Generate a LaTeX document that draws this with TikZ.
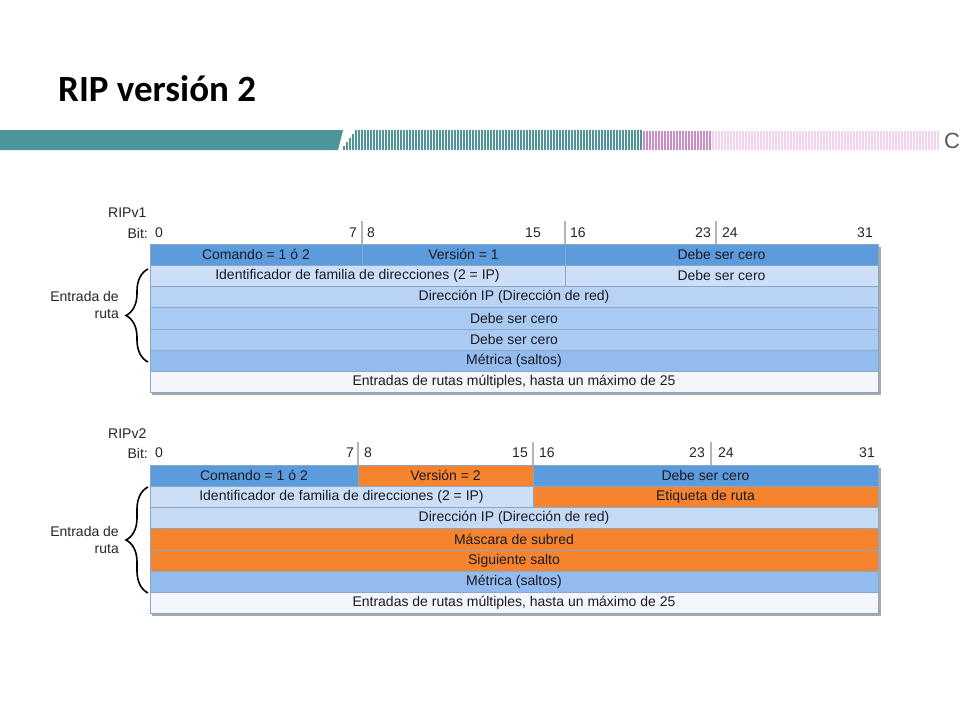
\documentclass[tikz,border=0pt]{standalone}
\usepackage{fontspec}
\setmainfont{Liberation Sans}
\newfontfamily\titlefont{Carlito}
\usetikzlibrary{decorations.pathreplacing}
\definecolor{teal1}{HTML}{4E959B}
\definecolor{pinkst}{HTML}{F4D2EE}
\definecolor{purpst}{HTML}{C98CC4}
\definecolor{hdr}{HTML}{5C9CDC}
\definecolor{lbA}{HTML}{CCDFF6}
\definecolor{lbB}{HTML}{B8D3F4}
\definecolor{lbC}{HTML}{A9CAF2}
\definecolor{lbD}{HTML}{93BBEE}
\definecolor{lbE}{HTML}{C4DAF5}
\definecolor{wrow}{HTML}{F3F6FA}
\definecolor{orng}{HTML}{F6842F}
\definecolor{rowline}{HTML}{8AA8C6}
\definecolor{txt}{HTML}{1A1A24}
\definecolor{tick}{HTML}{B5B5B5}
\definecolor{shadowc}{HTML}{A8A8A8}
\tikzset{
  cell/.style={draw=rowline, line width=0.6pt, inner sep=0pt, outer sep=0pt,
    anchor=north west, minimum height=21.2pt, text=txt,
    font=\fontsize{14}{16}\selectfont},
  bitlbl/.style={inner sep=0pt, text=black!85, font=\fontsize{14}{16}\selectfont},
  ticks/.style={draw=tick, line width=2pt},
  sidelbl/.style={inner sep=0pt, align=right, anchor=east, text=black!85,
    font=\fontsize{14}{17}\selectfont},
  bracest/.style={decorate, decoration={brace, amplitude=22pt, aspect=0.5}, line width=1.6pt, black},
  shadowbox/.style={fill=shadowc, draw=none}
}
\begin{document}
\begin{tikzpicture}[x=1pt,y=-1pt]
\useasboundingbox[fill=white] (0,0) rectangle (960,720);
% title
\node[anchor=base west, inner sep=0pt, font=\titlefont\bfseries\fontsize{37}{40}\selectfont] (title) at (58,101) {RIP versión 2};
% banner
\fill[teal1] (0,130) -- (343,130) -- (338,150) -- (0,150) -- cycle;
\foreach \i in {0,...,99} {
  \pgfmathsetmacro{\tp}{max(130,150-(\i+1)*4)}
  \draw[teal1, line width=1.3pt] ({344+3*\i},150) -- ({344+3*\i},\tp);
}
\foreach \i in {0,...,22} {
  \draw[purpst, line width=1.3pt] ({644+3*\i},150) -- ({644+3*\i},131);
}
\foreach \i in {0,...,75} {
  \draw[pinkst, line width=1.3pt] ({713+3*\i},150) -- ({713+3*\i},131);
}
\node[anchor=west, inner sep=0pt, text=black!65, font=\fontsize{22}{24}\selectfont] (cmark) at (944,141) {C};

% ---------------- RIPv1 ----------------
\node[anchor=west, bitlbl] (v1name) at (108,213) {RIPv1};
\node[anchor=east, bitlbl] (v1bit) at (148,233) {Bit:};
\node[anchor=west, bitlbl] (v1b0) at (155,233) {0};
\node[anchor=east, bitlbl] (v1b7) at (357,233) {7};
\node[anchor=west, bitlbl] (v1b8) at (367,233) {8};
\node[anchor=east, bitlbl] (v1b15) at (541,233) {15};
\node[anchor=west, bitlbl] (v1b16) at (570,233) {16};
\node[anchor=east, bitlbl] (v1b23) at (711,233) {23};
\node[anchor=west, bitlbl] (v1b24) at (722,233) {24};
\node[anchor=east, bitlbl] (v1b31) at (873,233) {31};
\fill[shadowc] (152,247) rectangle (880.5,394.5);
\node[cell, fill=hdr, minimum width=212pt] (v1cmd) at (150,244) {Comando = 1 ó 2};
\node[cell, fill=hdr, minimum width=203pt] (v1ver) at (362,244) {Versión = 1};
\node[cell, fill=hdr, minimum width=313pt] (v1mbz) at (565,244) {Debe ser cero};
\node[cell, fill=lbA, minimum width=415pt] (v1afi) at (150,265.2) {Identificador de familia de direcciones (2 = IP)};
\node[cell, fill=lbA, minimum width=313pt] (v1mbz2) at (565,265.2) {Debe ser cero};
\node[cell, fill=lbB, minimum width=728pt] (v1ip) at (150,286.4) {Dirección IP (Dirección de red)};
\node[cell, fill=lbC, minimum width=728pt] (v1z1) at (150,307.6) {Debe ser cero};
\node[cell, fill=lbC, minimum width=728pt] (v1z2) at (150,328.8) {Debe ser cero};
\node[cell, fill=lbD, minimum width=728pt] (v1met) at (150,350) {Métrica (saltos)};
\node[cell, fill=wrow, minimum width=728pt] (v1more) at (150,371.2) {Entradas de rutas múltiples, hasta un máximo de 25};
\draw[ticks] (v1cmd.north east) -- ++(0,-23);
\draw[ticks] (v1ver.north east) -- ++(0,-23);
\coordinate (v1t3) at (716,244);
\draw[ticks] (v1t3) -- ++(0,-23);
\coordinate (v1brt) at (148,269);
\coordinate (v1brb) at (148,362);
\draw[bracest] (v1brb) -- (v1brt);
\node[sidelbl] (v1side) at (119,305) {Entrada de\\ruta};

% ---------------- RIPv2 ----------------
\node[anchor=west, bitlbl] (v2name) at (108,434) {RIPv2};
\node[anchor=east, bitlbl] (v2bit) at (148,453) {Bit:};
\node[anchor=west, bitlbl] (v2b0) at (155,453) {0};
\node[anchor=east, bitlbl] (v2b7) at (354,453) {7};
\node[anchor=west, bitlbl] (v2b8) at (364,453) {8};
\node[anchor=east, bitlbl] (v2b15) at (528,453) {15};
\node[anchor=west, bitlbl] (v2b16) at (539,453) {16};
\node[anchor=east, bitlbl] (v2b23) at (705,453) {23};
\node[anchor=west, bitlbl] (v2b24) at (718,453) {24};
\node[anchor=east, bitlbl] (v2b31) at (875,453) {31};
\fill[shadowc] (152,468) rectangle (880.5,615.5);
\node[cell, fill=hdr, minimum width=208pt] (v2cmd) at (150,465) {Comando = 1 ó 2};
\node[cell, fill=orng, minimum width=175pt] (v2ver) at (358,465) {Versión = 2};
\node[cell, fill=hdr, minimum width=345pt] (v2mbz) at (533,465) {Debe ser cero};
\node[cell, fill=lbA, minimum width=383pt] (v2afi) at (150,486.2) {Identificador de familia de direcciones (2 = IP)};
\node[cell, fill=orng, minimum width=345pt] (v2tag) at (533,486.2) {Etiqueta de ruta};
\node[cell, fill=lbE, minimum width=728pt] (v2ip) at (150,507.4) {Dirección IP (Dirección de red)};
\node[cell, fill=orng, minimum width=728pt] (v2mask) at (150,528.6) {Máscara de subred};
\node[cell, fill=orng, minimum width=728pt] (v2nh) at (150,549.8) {Siguiente salto};
\node[cell, fill=lbD, minimum width=728pt] (v2met) at (150,571) {Métrica (saltos)};
\node[cell, fill=wrow, minimum width=728pt] (v2more) at (150,592.2) {Entradas de rutas múltiples, hasta un máximo de 25};
\draw[ticks] (v2cmd.north east) -- ++(0,-23);
\draw[ticks] (v2ver.north east) -- ++(0,-23);
\coordinate (v2t3) at (711,465);
\draw[ticks] (v2t3) -- ++(0,-23);
\coordinate (v2brt) at (148,487);
\coordinate (v2brb) at (148,593);
\draw[bracest] (v2brb) -- (v2brt);
\node[sidelbl] (v2side) at (119,540) {Entrada de\\ruta};
\end{tikzpicture}
\end{document}
